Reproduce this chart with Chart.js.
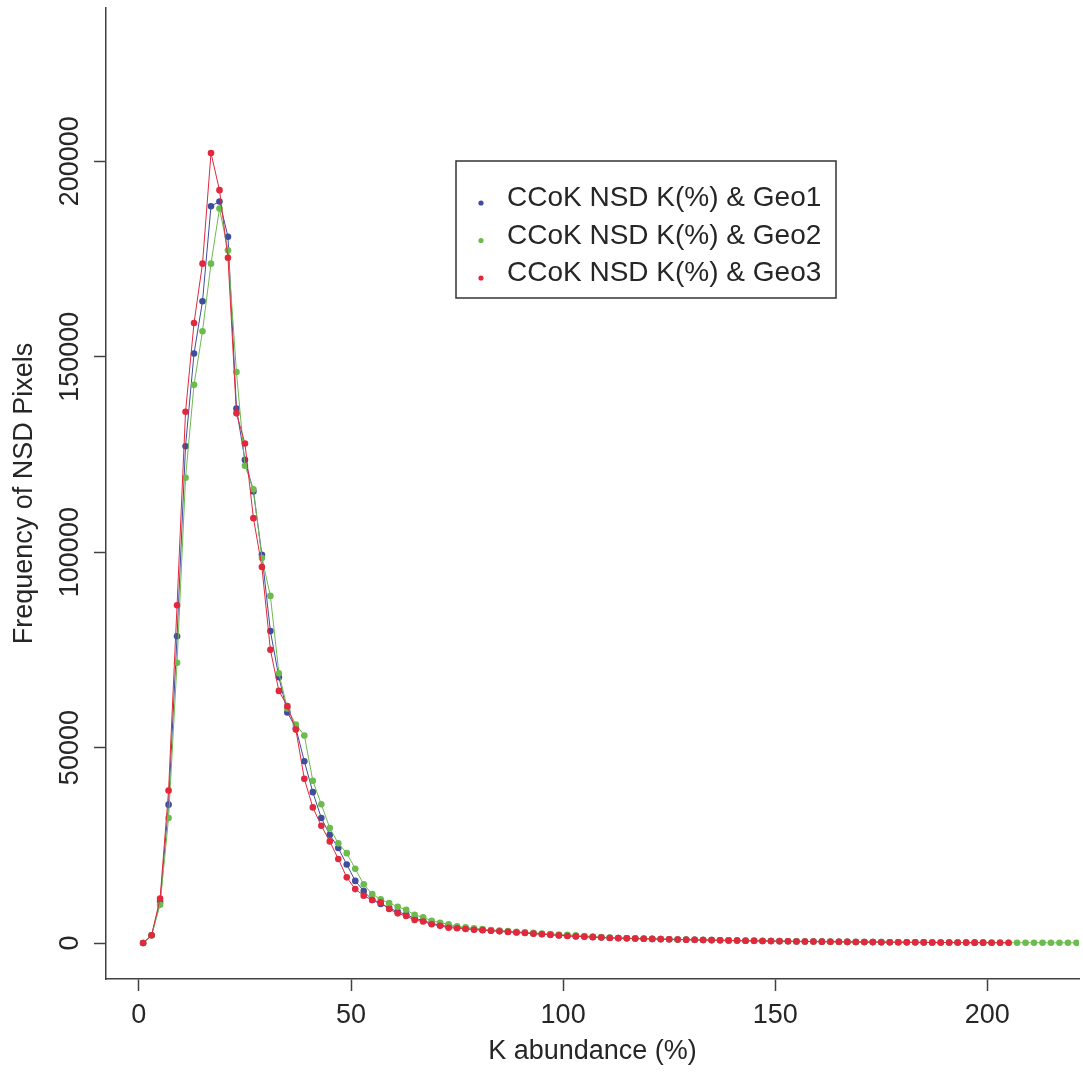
<!DOCTYPE html>
<html>
<head>
<meta charset="utf-8">
<script src="https://cdn.jsdelivr.net/npm/chart.js@4.4.0/dist/chart.umd.min.js"></script>
<style>
  html, body { margin: 0; padding: 0; background: #fff; }
  #wrap { width: 1083px; height: 1074px; }
</style>
</head>
<body>
<div id="wrap"><canvas id="kChart" width="1083" height="1074"></canvas></div>
<script>
// K abundance bins (%)
var kAbundance = [1,3,5,7,9,11,13,15,17,19,21,23,25,27,29,31,33,35,37,39,41,43,45,47,49,
  51,53,55,57,59,61,63,65,67,69,71,73,75,77,79,81,83,85,87,89,91,93,95,97,99,
  101,103,105,107,109,111,113,115,117,119,121,123,125,127,129,131,133,135,137,139,
  141,143,145,147,149,151,153,155,157,159,161,163,165,167,169,171,173,175,177,179,
  181,183,185,187,189,191,193,195,197,199,201,203,205,207,209,211,213,215,217,219,221];

var geo1 = [0,2000,10500,35400,78500,127100,150800,164200,188500,189700,180700,136700,123600,115500,99300,
  79800,68000,59000,55000,46500,38600,32000,27700,24300,20100,15900,13300,11000,10000,9000,8000,7300,
  6300,5800,5000,4600,4200,4000,3750,3500,3350,3200,3050,2900,2750,2600,2450,2300,2150,2000,1850,1750,
  1650,1550,1450,1350,1280,1220,1160,1100,1060,1010,960,910,870,830,790,750,710,670,630,600,570,540,510,
  480,450,420,400,380,360,340,320,300,280,260,240,225,210,195,185,175,165,155,145,135,125,115,105,100];

var geo2 = [0,2000,9800,32000,71700,119000,142800,156500,173800,187900,177200,146100,122100,116100,98500,
  88800,69000,60000,55900,53100,41500,35500,29400,25500,23000,19000,15000,12500,11200,10200,9300,8500,
  7200,6600,5700,5200,4800,4300,4000,3750,3550,3350,3200,3050,2900,2750,2600,2450,2300,2200,2100,1950,
  1800,1650,1500,1380,1300,1240,1180,1120,1070,1020,970,920,880,840,800,760,720,680,640,610,580,550,520,
  490,460,430,410,390,370,350,330,310,290,270,250,235,220,205,195,185,175,165,155,145,135,125,115,110,
  100,95,90,85,80,75,70,65,60,55,50];

var geo3 = [0,2000,11400,39000,86400,135900,158600,173800,202100,192600,175300,135500,127800,108700,96200,
  75000,64500,60600,54600,42000,34700,30000,26000,21500,16800,13800,12100,11000,10400,8700,7600,6900,
  5900,5500,4800,4400,3900,3800,3600,3400,3300,3150,3000,2850,2700,2550,2400,2250,2100,1950,1800,1700,
  1600,1500,1400,1300,1250,1200,1150,1100,1050,1000,950,900,860,820,780,740,700,660,620,590,560,530,500,
  470,440,410,390,370,350,330,310,290,270,250,235,220,205,190,180,170,160,150,140,130,120,110,100,95,
  90,85,80];

var seriesLabels = ['CCoK NSD K(%) & Geo1', 'CCoK NSD K(%) & Geo2', 'CCoK NSD K(%) & Geo3'];
var seriesColors = ['#3f4d9c', '#6cbb4e', '#e2283c'];
var xTicks = [0, 50, 100, 150, 200];
var yTicks = [0, 50000, 100000, 150000, 200000];

var textColor = '#262626';
var axisColor = '#404040';
var fontFamily = '"Liberation Sans", Arial, Helvetica, sans-serif';

function toPoints(vals) {
  return vals.map(function (v, i) { return { x: kAbundance[i], y: v }; });
}

var allSeries = [geo1, geo2, geo3];
var datasets = allSeries.map(function (vals, i) {
  return {
    label: seriesLabels[i],
    data: toPoints(vals),
    borderColor: seriesColors[i],
    backgroundColor: seriesColors[i],
    pointBackgroundColor: seriesColors[i],
    pointBorderWidth: 0,
    pointRadius: 3.3,
    borderWidth: 1,
    tension: 0,
    order: 3 - i
  };
});

// R style boxed legend
var boxLegend = {
  id: 'boxLegend',
  afterDraw: function (chart) {
    var ctx = chart.ctx, area = chart.chartArea;
    var left = area.left + 350, top = area.top + 153;
    var w = 380, h = 137;
    ctx.save();
    ctx.strokeStyle = '#333';
    ctx.lineWidth = 1.5;
    ctx.strokeRect(left, top, w, h);
    ctx.font = '28px ' + fontFamily;
    ctx.fillStyle = textColor;
    ctx.textBaseline = 'alphabetic';
    chart.data.datasets.forEach(function (ds, i) {
      var base = top + 45 + i * 37.5;
      ctx.fillStyle = ds.borderColor;
      ctx.beginPath();
      ctx.arc(left + 25, base - 3, 2.6, 0, Math.PI * 2);
      ctx.fill();
      ctx.fillStyle = textColor;
      ctx.fillText(ds.label, left + 51, base);
    });
    ctx.restore();
  }
};

var chart = new Chart(document.getElementById('kChart'), {
  type: 'line',
  data: { datasets: datasets },
  plugins: [boxLegend],
  options: {
    responsive: false,
    animation: false,
    devicePixelRatio: 1,
    layout: { padding: { top: 8, right: 0, left: 0, bottom: 0 } },
    plugins: { legend: { display: false }, tooltip: { enabled: false } },
    scales: {
      x: {
        type: 'linear',
        min: -7.75,
        max: 221.6,
        afterBuildTicks: function (scale) {
          scale.ticks = xTicks.map(function (v) { return { value: v }; });
        },
        afterFit: function (scale) { scale.height = 95; },
        grid: { display: true, drawOnChartArea: false, drawTicks: true, tickLength: 12, tickColor: axisColor, tickWidth: 1.5 },
        border: { display: true, color: axisColor, width: 1.5 },
        ticks: {
          padding: 8,
          maxRotation: 0,
          color: textColor,
          font: { family: fontFamily, size: 27 },
          callback: function (v) { return String(v); }
        },
        title: {
          display: true,
          text: 'K abundance (%)',
          color: textColor,
          font: { family: fontFamily, size: 27 },
          padding: { top: 0, bottom: 6 }
        }
      },
      y: {
        type: 'linear',
        min: -9200,
        max: 239200,
        afterBuildTicks: function (scale) {
          scale.ticks = yTicks.map(function (v) { return { value: v }; });
        },
        afterFit: function (scale) { scale.width = 106; },
        grid: { display: true, drawOnChartArea: false, drawTicks: true, tickLength: 12, tickColor: axisColor, tickWidth: 1.5 },
        border: { display: true, color: axisColor, width: 1.5 },
        ticks: {
          minRotation: 90,
          maxRotation: 90,
          crossAlign: 'center',
          padding: -22,
          color: textColor,
          font: { family: fontFamily, size: 27 },
          callback: function (v) { return String(v); }
        },
        title: {
          display: true,
          text: 'Frequency of NSD Pixels',
          color: textColor,
          font: { family: fontFamily, size: 27 },
          padding: { top: 8, bottom: 0 }
        }
      }
    }
  }
});
</script>
</body>
</html>
